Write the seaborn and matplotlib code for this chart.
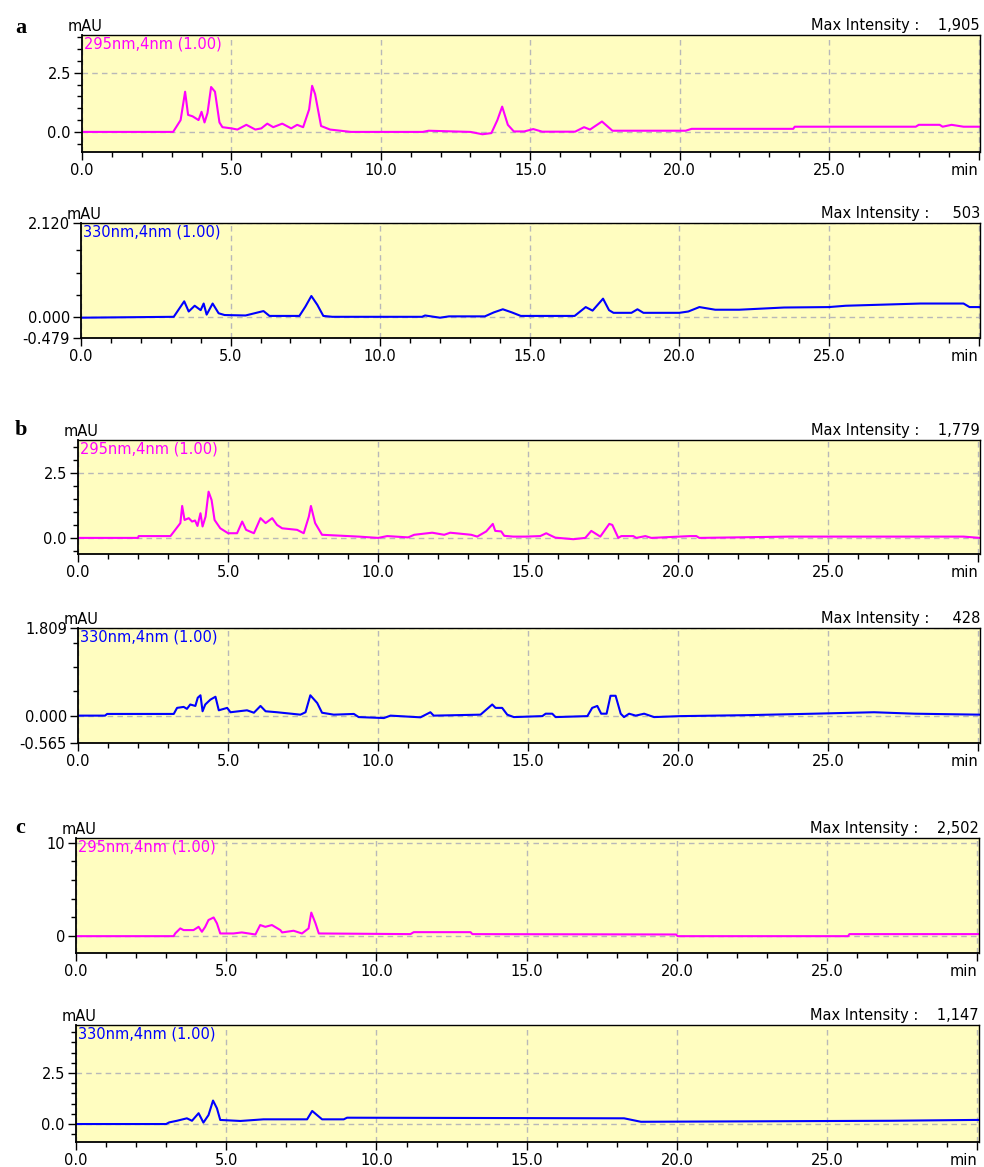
import numpy as np
import pandas as pd
import seaborn as sns
import matplotlib
matplotlib.use("Agg")
import matplotlib.pyplot as plt
from matplotlib.ticker import MultipleLocator, FixedLocator

# ---- chromatogram data (time in min, signal in mAU) ----
a295_t = [0, 3.05, 3.15, 3.3, 3.45, 3.55, 3.7, 3.9, 4.0, 4.1, 4.2, 4.32, 4.45, 4.6, 4.7, 5.0, 5.2, 5.5,
          5.8, 6.0, 6.2, 6.4, 6.7, 7.0, 7.2, 7.4, 7.6, 7.7, 7.8, 8.0, 8.3, 9.0, 11.4, 11.6, 13.0, 13.4,
          13.7, 13.9, 14.06, 14.25, 14.45, 14.8, 15.1, 15.4, 16.5, 16.8, 17.0, 17.4, 17.75, 18.5, 20.2,
          20.4, 23.8, 23.85, 27.9, 28.0, 28.7, 28.8, 29.1, 29.5, 30.05]
a295_v = [0, 0, 0.2, 0.5, 1.7, 0.72, 0.66, 0.5, 0.85, 0.4, 0.8, 1.9, 1.7, 0.4, 0.2, 0.15, 0.1, 0.3,
          0.1, 0.15, 0.35, 0.2, 0.35, 0.15, 0.3, 0.2, 0.95, 1.95, 1.6, 0.25, 0.1, 0.0, 0.0, 0.05, 0.0, -0.1,
          -0.05, 0.5, 1.07, 0.3, 0.02, 0.02, 0.12, 0.01, 0.01, 0.2, 0.1, 0.44, 0.05, 0.05, 0.05,
          0.13, 0.13, 0.22, 0.22, 0.3, 0.3, 0.22, 0.3, 0.22, 0.22]

a330_t = [0, 3.1, 3.3, 3.45, 3.6, 3.8, 4.0, 4.1, 4.2, 4.4, 4.6, 4.8, 5.5, 6.1, 6.3, 7.3, 7.5, 7.7,
          7.9, 8.1, 8.4, 11.4, 11.5, 12.0, 12.3, 13.5, 13.8, 14.1, 14.4, 14.7, 16.5, 16.87, 17.1,
          17.45, 17.65, 17.8, 18.4, 18.6, 18.8, 20.0, 20.3, 20.67, 21.2, 22.0, 23.5, 25.0, 25.56,
          28.06, 29.5, 29.7, 30.05]
a330_v = [-0.02, 0.0, 0.2, 0.35, 0.12, 0.25, 0.15, 0.3, 0.05, 0.3, 0.08, 0.04, 0.03, 0.13, 0.02, 0.02, 0.23, 0.47,
          0.27, 0.02, 0.0, 0.0, 0.03, -0.02, 0.01, 0.01, 0.1, 0.17, 0.1, 0.02, 0.02, 0.22, 0.14,
          0.41, 0.15, 0.09, 0.09, 0.17, 0.09, 0.09, 0.12, 0.22, 0.16, 0.16, 0.21, 0.22, 0.25,
          0.3, 0.3, 0.22, 0.22]

b295_t = [0, 2.0, 2.02, 3.08, 3.2, 3.41, 3.47, 3.55, 3.69, 3.8, 3.9, 3.98, 4.08, 4.15, 4.25, 4.35, 4.45,
          4.55, 4.74, 5.0, 5.3, 5.47, 5.6, 5.86, 6.08, 6.25, 6.47, 6.63, 6.8, 7.3, 7.52, 7.69, 7.76,
          7.9, 8.13, 9.35, 10.0, 10.3, 11.0, 11.2, 11.8, 12.2, 12.4, 13.1, 13.3, 13.6, 13.82, 13.9,
          14.1, 14.2, 14.5, 14.9, 15.4, 15.6, 15.7, 15.9, 16.5, 16.9, 17.1, 17.4, 17.7, 17.8, 18.0,
          18.1, 18.5, 18.6, 18.9, 19.1, 20.4, 20.6, 20.7, 23.7, 29.5, 30.05]
b295_v = [0, 0, 0.07, 0.07, 0.25, 0.57, 1.23, 0.69, 0.76, 0.63, 0.67, 0.46, 0.95, 0.44, 0.82, 1.78, 1.46,
          0.69, 0.37, 0.18, 0.18, 0.63, 0.31, 0.18, 0.76, 0.57, 0.76, 0.5, 0.37, 0.31, 0.18, 0.82, 1.23,
          0.57, 0.12, 0.05, 0.0, 0.07, 0.02, 0.12, 0.2, 0.12, 0.2, 0.12, 0.05, 0.25, 0.54, 0.27,
          0.25, 0.08, 0.05, 0.05, 0.07, 0.18, 0.12, 0.01, -0.05, 0.0, 0.27, 0.05, 0.54, 0.5, 0.0,
          0.07, 0.07, 0.0, 0.07, 0.0, 0.07, 0.07, 0.0, 0.05, 0.05, 0.0]

b330_t = [0, 0.9, 0.97, 3.19, 3.3, 3.52, 3.63, 3.74, 3.91, 3.99, 4.08, 4.15, 4.24, 4.41, 4.58, 4.69,
          4.97, 5.08, 5.63, 5.86, 6.08, 6.25, 6.63, 7.41, 7.58, 7.74, 7.97, 8.13, 8.52, 9.19, 9.35,
          10.19, 10.41, 11.41, 11.74, 11.85, 13.41, 13.8, 13.91, 14.13, 14.3, 14.52, 15.47, 15.58,
          15.8, 15.91, 16.97, 17.13, 17.3, 17.43, 17.61, 17.74, 17.91, 18.08, 18.19, 18.36, 18.58,
          18.86, 19.19, 20.08, 22.3, 24.52, 26.52, 27.86, 30.05]
b330_v = [0.0, 0.0, 0.035, 0.035, 0.16, 0.18, 0.14, 0.23, 0.2, 0.37, 0.42, 0.09, 0.23, 0.33, 0.39, 0.11,
          0.16, 0.07, 0.11, 0.06, 0.2, 0.09, 0.07, 0.02, 0.07, 0.42, 0.26, 0.06, 0.02, 0.035, -0.03,
          -0.05, 0.0, -0.035, 0.07, 0.0, 0.02, 0.23, 0.16, 0.16, 0.02, -0.03, -0.01, 0.04,
          0.04, -0.03, -0.01, 0.16, 0.2, 0.04, 0.04, 0.41, 0.41, 0.04, -0.03, 0.04, 0.0,
          0.04, -0.03, -0.01, 0.01, 0.04, 0.07, 0.04, 0.02]

c295_t = [0, 3.25, 3.3, 3.47, 3.58, 3.91, 4.08, 4.19, 4.3, 4.41, 4.58, 4.69, 4.8, 5.24, 5.52, 5.97,
          6.13, 6.3, 6.52, 6.8, 6.86, 7.24, 7.52, 7.74, 7.83, 7.97, 8.08, 11.13, 11.24, 13.13, 13.19,
          19.97, 20.02, 25.69, 25.74, 30.05]
c295_v = [0, 0, 0.29, 0.83, 0.65, 0.65, 1.0, 0.47, 1.0, 1.73, 2.0, 1.37, 0.29, 0.29, 0.4, 0.18,
          1.19, 1.0, 1.19, 0.65, 0.4, 0.58, 0.29, 0.83, 2.52, 1.37, 0.29, 0.22, 0.43, 0.43, 0.22,
          0.18, 0.0, 0.0, 0.22, 0.22]

c330_t = [0, 3.0, 3.1, 3.36, 3.69, 3.86, 4.08, 4.24, 4.41, 4.56, 4.69, 4.8, 5.47, 6.24, 7.69, 7.86,
          8.02, 8.19, 8.91, 9.02, 18.24, 18.8, 27.13, 29.9, 30.05]
c330_v = [0, 0, 0.08, 0.16, 0.28, 0.16, 0.53, 0.07, 0.44, 1.15, 0.77, 0.2, 0.15, 0.23, 0.23, 0.64,
          0.44, 0.23, 0.23, 0.31, 0.28, 0.11, 0.16, 0.2, 0.2]

channels = ["295nm,4nm (1.00)", "330nm,4nm (1.00)"]
max_intensity = ["1,905", "503", "1,779", "428", "2,502", "1,147"]
panel_letters = ["a", "b", "c"]
x_ticks = [0, 5, 10, 15, 20, 25, 30]
x_ticklabels = ["0.0", "5.0", "10.0", "15.0", "20.0", "25.0", "min"]

MAGENTA = "#FF00FF"
BLUE = "#0000FF"
BG = "#FFFDC0"

sns.set_style("ticks")
plt.rcParams["font.family"] = ["DejaVu Sans"]
plt.rcParams["font.size"] = 10.5
plt.rcParams["text.color"] = "black"
plt.rcParams["xtick.color"] = "black"
plt.rcParams["ytick.color"] = "black"

W, H = 984, 1167
fig = plt.figure(figsize=(W / 100, H / 100), dpi=100)

# pixel boxes of each panel: left, top, right, bottom
boxes = [(82, 35, 980, 152), (81, 223, 980, 338),
         (78, 440, 980, 554), (78, 628, 980, 743),
         (76, 838, 979, 953), (76, 1025, 979, 1142)]

traces = [(a295_t, a295_v), (a330_t, a330_v), (b295_t, b295_v),
          (b330_t, b330_v), (c295_t, c295_v), (c330_t, c330_v)]

ylims = [(-0.85, 4.1), (-0.479, 2.120), (-0.62, 3.77), (-0.565, 1.809), (-1.8, 10.5), (-0.88, 4.85)]
ymajor = [([0, 2.5], ["0.0", "2.5"]),
          ([-0.479, 0, 2.120], ["-0.479", "0.000", "2.120"]),
          ([0, 2.5], ["0.0", "2.5"]),
          ([-0.565, 0, 1.809], ["-0.565", "0.000", "1.809"]),
          ([0, 10], ["0", "10"]),
          ([0, 2.5], ["0.0", "2.5"])]
yminor = [MultipleLocator(0.5), FixedLocator([0.5, 1.0, 1.5]), MultipleLocator(0.5),
          FixedLocator([0.5, 1.0, 1.5]), MultipleLocator(2), MultipleLocator(0.5)]

for i, (box, (t, v)) in enumerate(zip(boxes, traces)):
    l, tp, r, b = box
    ax = fig.add_axes([l / W, 1 - b / H, (r - l) / W, (b - tp) / H])
    ax.set_facecolor(BG)
    color = MAGENTA if i % 2 == 0 else BLUE
    df = pd.DataFrame({"time": t, "signal": v})
    sns.lineplot(data=df, x="time", y="signal", ax=ax, color=color, lw=1.5,
                 estimator=None, sort=False)
    ax.set_xlim(0, 30.05)
    ax.set_ylim(*ylims[i])
    ax.set_xlabel("")
    ax.set_ylabel("")

    ax.xaxis.set_major_locator(FixedLocator(x_ticks))
    ax.set_xticklabels(x_ticklabels)
    ax.get_xticklabels()[-1].set_ha("right")
    ax.xaxis.set_minor_locator(MultipleLocator(1))
    ax.yaxis.set_major_locator(FixedLocator(ymajor[i][0]))
    ax.set_yticklabels(ymajor[i][1])
    ax.yaxis.set_minor_locator(yminor[i])

    ax.grid(which="major", ls=(0, (4, 3)), color="#b8b8b8", lw=1)
    ax.set_axisbelow(True)
    ax.tick_params(which="major", length=6, width=1, color="black", labelsize=10.5, pad=2)
    ax.tick_params(which="minor", length=3.5, width=1, color="black")
    for s in ax.spines.values():
        s.set_color("black")
        s.set_linewidth(1.0)
    ax.spines["left"].set_linewidth(1.3)
    ax.spines["bottom"].set_linewidth(1.3)

    ax.text(0.002, 0.985, channels[i % 2], transform=ax.transAxes, color=color,
            ha="left", va="top", fontsize=10.5)
    ax.text(-0.016, 1.005, "mAU", transform=ax.transAxes, ha="left", va="bottom", fontsize=10.5)
    gap = "    " if "," in max_intensity[i] else "     "
    ax.text(1.0, 1.02, "Max Intensity :" + gap + max_intensity[i], transform=ax.transAxes,
            ha="right", va="bottom", fontsize=10.5)

    if i % 2 == 0:
        fig.text(15 / W, 1 - 28 / H if i == 0 else 1 - (tp - 10) / H, panel_letters[i // 2],
                 family="Liberation Serif", weight="bold", fontsize=16, ha="left", va="center")

fig.savefig("out.png", dpi=100)
